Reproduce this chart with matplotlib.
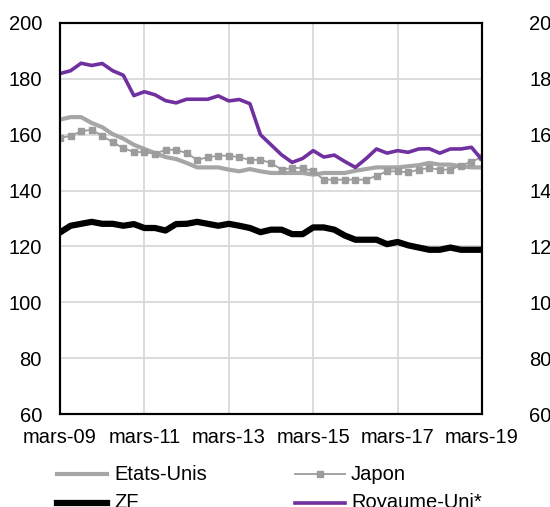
import matplotlib
matplotlib.use("Agg")
import matplotlib.pyplot as plt
from matplotlib.lines import Line2D
import numpy as np

plt.rcParams['font.family'] = ['Liberation Sans', 'DejaVu Sans']

quarters = np.arange(41)  # quarterly points, mars-09 .. mars-19
xtick_pos = [0, 8, 16, 24, 32, 40]
xtick_labels = ["mars-09", "mars-11", "mars-13", "mars-15", "mars-17", "mars-19"]

etats_unis = [165.4, 166.3, 166.3, 164.2, 162.7, 160.2, 158.6, 156.4, 154.9, 153.4,
              152.0, 151.3, 149.9, 148.3, 148.3, 148.3, 147.5, 146.9, 147.7, 146.9,
              146.3, 146.3, 146.3, 146.3, 145.7, 146.3, 146.3, 146.3, 147.1, 147.7,
              148.3, 148.3, 148.3, 148.7, 149.1, 149.9, 149.3, 149.3, 148.7, 148.3, 148.3]
japon = [158.8, 159.6, 161.2, 161.8, 159.6, 157.3, 155.2, 153.8, 153.8, 153.1,
         154.6, 154.6, 153.4, 151.0, 151.9, 152.5, 152.5, 151.9, 151.0, 151.0,
         149.9, 147.5, 148.1, 148.1, 146.9, 143.9, 143.9, 143.9, 143.9, 143.9,
         145.3, 146.9, 146.9, 146.5, 147.5, 148.1, 147.5, 147.5, 148.9, 150.4, 151.9]
zf = [125.0, 127.4, 128.1, 128.8, 128.1, 128.1, 127.4, 128.0, 126.6, 126.6,
      125.7, 128.0, 128.1, 128.8, 128.1, 127.4, 128.1, 127.4, 126.6, 125.1,
      126.0, 126.0, 124.4, 124.4, 126.8, 126.8, 126.0, 123.9, 122.4, 122.4,
      122.4, 120.8, 121.6, 120.4, 119.6, 118.8, 118.8, 119.6, 118.8, 118.8, 118.8]
royaume_uni = [181.9, 182.9, 185.6, 184.8, 185.5, 182.9, 181.3, 174.0, 175.4, 174.3,
               172.2, 171.4, 172.7, 172.7, 172.7, 173.9, 172.1, 172.6, 171.1, 160.0,
               156.4, 152.8, 150.1, 151.5, 154.3, 152.0, 152.7, 150.4, 148.3, 151.4,
               154.9, 153.4, 154.3, 153.7, 154.9, 155.0, 153.4, 154.9, 154.9, 155.5, 151.0]

yticks = [60, 80, 100, 120, 140, 160, 180, 200]

W, H = 550, 507
fig = plt.figure(figsize=(W / 100, H / 100), dpi=100)
ax = fig.add_axes([60 / W, (H - 414) / H, (482 - 60) / W, (414 - 23) / H])

c_us = "#A6A6A6"
c_jp = "#9C9C9C"
c_uk = "#7030A0"

ax.plot(quarters, etats_unis, color=c_us, lw=3.0, zorder=3)
ax.plot(quarters, japon, color=c_jp, lw=1.3, marker='s', markersize=4, zorder=4)
ax.plot(quarters, zf, color='black', lw=4.5, zorder=5)
ax.plot(quarters, royaume_uni, color=c_uk, lw=2.6, zorder=6)

ax.set_xlim(0, 40)
ax.set_ylim(60, 200)
ax.set_xticks(xtick_pos)
ax.set_xticklabels(xtick_labels)
ax.set_yticks(yticks)
ax.grid(True, color="#D9D9D9", lw=1.3, zorder=0)
ax.set_axisbelow(True)
ax.tick_params(axis='both', length=0, labelsize=14.5)
ax.tick_params(axis='y', pad=13)
ax.tick_params(axis='x', pad=10)
for s in ax.spines.values():
    s.set_linewidth(1.5)
    s.set_color('black')

ax2 = ax.twinx()
ax2.set_ylim(60, 200)
ax2.set_yticks(yticks)
ax2.tick_params(axis='y', length=0, labelsize=14.5, pad=34)
for s in ax2.spines.values():
    s.set_linewidth(1.5)
    s.set_color('black')

# legend drawn manually (clipped at bottom like the reference)
def fx(px):
    return px / W

def fy(py):
    return (H - py) / H

legend_items = [
    (57, 107, 474, dict(color=c_us, lw=3.0), "Etats-Unis", 114),
    (57, 107, 503, dict(color='black', lw=4.5), "ZF", 114),
    (295, 345, 474, dict(color=c_jp, lw=1.3, marker='s', markersize=4, markevery=[1]), "Japon", 351),
    (295, 345, 503, dict(color=c_uk, lw=2.6), "Royaume-Uni*", 351),
]
for x0, x1, yy, style, label, tx in legend_items:
    xs = [fx(x0), fx((x0 + x1) / 2), fx(x1)]
    ln = Line2D(xs, [fy(yy)] * 3, transform=fig.transFigure, **style)
    fig.add_artist(ln)
    fig.text(fx(tx), fy(yy), label, fontsize=14.5, va='center', ha='left')

fig.savefig("out.png", dpi=100)
